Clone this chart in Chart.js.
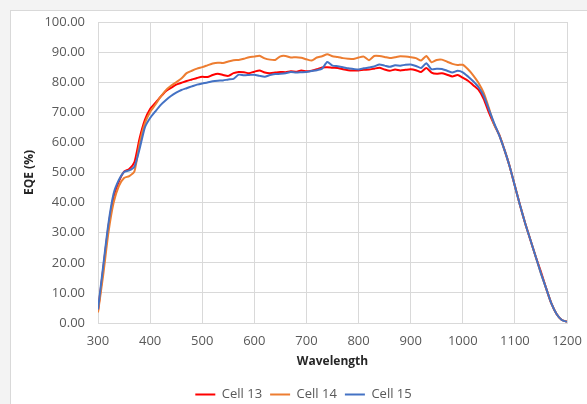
<!DOCTYPE html>
<html>
<head>
<meta charset="utf-8">
<script src="https://cdn.jsdelivr.net/npm/chart.js@4.4.1/dist/chart.umd.min.js"></script>
<style>
  html, body { margin: 0; padding: 0; background: #f3f3f3; }
  #frame {
    position: absolute; left: 10px; top: 10px; width: 600px; height: 420px;
    background: #fff; border: 1px solid #d9d9d9;
  }
  #wrap { position: absolute; left: 0; top: 0; width: 587px; height: 404px; }
</style>
</head>
<body>
<div id="frame"></div>
<div id="wrap"><canvas id="chart" width="587" height="404"></canvas></div>
<script>
  const wavelengths = [];
  for (let w = 300; w <= 1200; w += 10) wavelengths.push(w);

  const cell13 = [
    4, 18, 32, 42, 47, 50.3, 51.2, 53.5, 61.5, 67.5,
    71.1, 73.1, 75.1, 77, 78.1, 79.2, 79.8, 80.4, 80.9, 81.4,
    81.8, 81.7, 82.4, 82.8, 82.4, 82.1, 83, 83.4, 83.3, 83,
    83.5, 83.9, 83.2, 83, 83.2, 83.4, 83.3, 83.6, 83.5, 83.9,
    83.6, 83.8, 84.3, 84.9, 85, 84.8, 84.7, 84.3, 84, 83.9,
    83.9, 84.1, 84.2, 84.5, 84.8, 84.2, 83.8, 84.2, 83.9, 84.1,
    84.3, 84, 83.4, 84.7, 83.2, 82.8, 83, 82.5, 81.9, 82.4,
    81.5, 80.5, 79, 77.5, 74.5, 70, 66, 62.5, 57.5, 52,
    45.5, 39, 33, 27.5, 22, 17, 11.5, 6.5, 3, 1, 0.5
  ];

  const cell14 = [
    3.5, 16, 30, 40, 45.5, 48.2, 48.8, 50.4, 59.8, 66.4,
    70.1, 72.5, 75.1, 77.3, 78.8, 80, 81.2, 83, 83.8, 84.5,
    85, 85.6, 86.2, 86.5, 86.4, 86.9, 87.3, 87.4, 87.8, 88.3,
    88.5, 88.8, 87.9, 87.5, 87.4, 88.6, 88.7, 88.2, 88.3, 88.1,
    87.6, 87.2, 88.2, 88.6, 89.3, 88.6, 88.4, 88, 87.8, 87.7,
    88.2, 88.5, 87.3, 88.7, 88.7, 88.4, 88, 88.3, 88.6, 88.5,
    88.3, 88, 87.2, 88.7, 86.6, 87.4, 87.5, 86.8, 86.1, 85.7,
    85.8, 84.3, 82.3, 79.8, 76.5, 71.5, 66, 62.5, 57.5, 52,
    45.5, 39, 33, 27.5, 22, 16.5, 11.5, 6.5, 3, 1, 0.5
  ];

  const cell15 = [
    4.5, 19, 33, 43, 47.5, 50.2, 50.7, 52, 58, 65,
    68.1, 70.3, 72.4, 74, 75.4, 76.5, 77.4, 78, 78.6, 79.2,
    79.6, 79.9, 80.3, 80.5, 80.6, 80.9, 81.1, 82.5, 82.3, 82.4,
    82.5, 82.1, 81.8, 82.4, 82.7, 82.8, 83, 83.4, 83.2, 83.3,
    83.4, 83.7, 84, 84.5, 86.7, 85.5, 85.3, 85, 84.6, 84.4,
    84.2, 84.6, 84.9, 85.2, 85.9, 85.5, 85.1, 85.6, 85.5, 85.8,
    85.9, 85.4, 84.7, 86.3, 84.3, 84.5, 84.4, 83.8, 83.2, 83.8,
    83.3, 81.9, 80.3, 78.4, 75.5, 71, 66.5, 62.3, 57.5, 52,
    45.5, 39, 33, 27.5, 22, 16.5, 11.5, 6.5, 3, 1, 0.4
  ];

  const seriesNames = ["Cell 13", "Cell 14", "Cell 15"];
  const seriesColors = ["#ff0000", "#ed7d31", "#4472c4"];

  function points(values) {
    return values.map((v, i) => ({ x: wavelengths[i], y: v }));
  }

  const gridColor = "#d9d9d9";
  const tickFont = { family: "'Open Sans'", size: 13 };
  const titleFont = { family: "'Open Sans'", size: 12, weight: "bold" };

  new Chart(document.getElementById("chart"), {
    type: "line",
    data: {
      datasets: [cell13, cell14, cell15].map((vals, i) => ({
        label: seriesNames[i],
        data: points(vals),
        borderColor: seriesColors[i],
        backgroundColor: seriesColors[i],
        borderWidth: 2,
        pointRadius: 0,
        tension: 0.2,
        fill: false,
        order: 2 - i
      }))
    },
    options: {
      responsive: false,
      animation: false,
      layout: { padding: { left: 20, right: 0, top: 22, bottom: -7 } },
      plugins: {
        legend: {
          position: "bottom",
          labels: {
            font: tickFont,
            color: "#595959",
            usePointStyle: true,
            pointStyle: "line",
            pointStyleWidth: 20,
            padding: 8,
            sort: (a, b) => a.datasetIndex - b.datasetIndex
          }
        },
        tooltip: { enabled: false }
      },
      scales: {
        x: {
          type: "linear",
          min: 300,
          max: 1200,
          ticks: { stepSize: 100, font: tickFont, color: "#595959", padding: 10, callback: v => String(v) },
          grid: { color: gridColor, drawTicks: false },
          border: { color: gridColor },
          title: { display: true, text: "Wavelength", font: titleFont, color: "#262626", padding: { top: 0, bottom: 11 } },
          afterFit: scale => {
            scale.height = 57;
            scale.paddingLeft = 0;
            scale.paddingRight = 0;
          }
        },
        y: {
          min: 0,
          max: 100,
          ticks: { stepSize: 10, font: tickFont, color: "#595959", padding: 13, callback: v => v.toFixed(2) },
          grid: { color: gridColor, drawTicks: false },
          border: { color: gridColor },
          title: { display: true, text: "EQE (%)", font: titleFont, color: "#262626", padding: { top: 2, bottom: 0 } },
          afterFit: scale => { scale.width = 78; }
        },
        yRight: {
          position: "right",
          display: true,
          ticks: { display: false },
          grid: { display: false },
          border: { display: false },
          afterFit: scale => { scale.width = 20; }
        }
      }
    }
  });
</script>
</body>
</html>
